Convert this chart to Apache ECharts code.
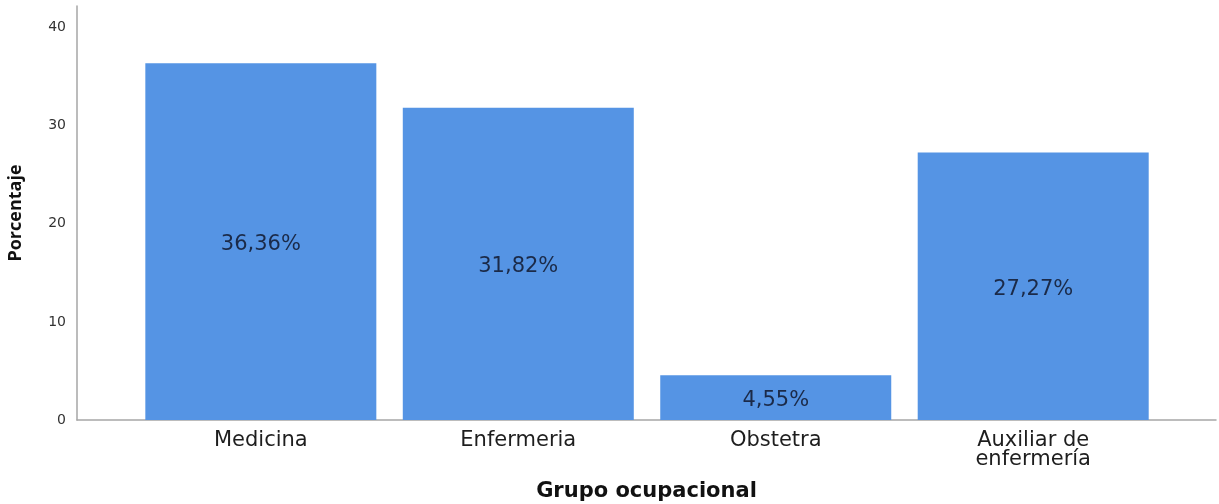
<!DOCTYPE html>
<html>
<head>
<meta charset="utf-8">
<script src="https://cdn.jsdelivr.net/npm/echarts@6/dist/echarts.min.js"></script>
<style>
  html, body { margin: 0; padding: 0; background: #fff; }
  #chart { width: 1219px; height: 504px; }
</style>
</head>
<body>
<div id="chart"></div>
<script>
// Occupational groups and their share (%)
var categories = ['Medicina', 'Enfermeria', 'Obstetra', 'Auxiliar de\nenfermería'];
var percentages = [36.36, 31.82, 4.55, 27.27];
var yTicks = [0, 10, 20, 30, 40];

var chart = echarts.init(document.getElementById('chart'), null, { renderer: 'canvas' });

var barData = percentages.map(function (v, i) { return [i, v]; });

chart.setOption({
  animation: false,
  grid: { left: 77, right: 3, top: 6, bottom: 84, outerBoundsMode: 'none' },
  xAxis: {
    type: 'value',
    min: -0.714,
    max: 3.71,
    name: 'Grupo ocupacional',
    nameLocation: 'middle',
    nameGap: 61,
    nameTextStyle: { fontFamily: 'DejaVu Sans', fontWeight: 'bold', fontSize: 21, color: '#111' },
    axisLine: { show: true, onZero: false, lineStyle: { color: '#a6a6a6', width: 1.5 } },
    axisTick: { show: false },
    splitLine: { show: false },
    axisLabel: {
      customValues: [0, 1, 2, 3],
      formatter: function (v) { return categories[Math.round(v)]; },
      fontFamily: 'DejaVu Sans',
      fontSize: 21,
      lineHeight: 19,
      color: '#1e1e1e',
      margin: 11
    }
  },
  yAxis: {
    type: 'value',
    min: 0,
    max: 42.2,
    name: 'Porcentaje',
    nameLocation: 'middle',
    nameGap: 52,
    nameTextStyle: { fontFamily: 'Open Sans', fontWeight: 'bold', fontSize: 18, color: '#111' },
    axisLine: { show: true, onZero: false, lineStyle: { color: '#a6a6a6', width: 1.5 } },
    axisTick: { show: false },
    splitLine: { show: false },
    axisLabel: {
      customValues: yTicks,
      fontFamily: 'DejaVu Sans',
      fontSize: 14,
      color: '#333',
      margin: 11
    }
  },
  series: [{
    type: 'bar',
    data: barData,
    barWidth: 231,
    itemStyle: { color: '#5594E4' },
    label: {
      show: true,
      position: 'inside',
      offset: [0, 3],
      formatter: function (p) { return p.value[1].toFixed(2).replace('.', ',') + '%'; },
      fontFamily: 'DejaVu Sans',
      fontSize: 21,
      color: '#1b2a48'
    }
  }]
});
</script>
</body>
</html>
